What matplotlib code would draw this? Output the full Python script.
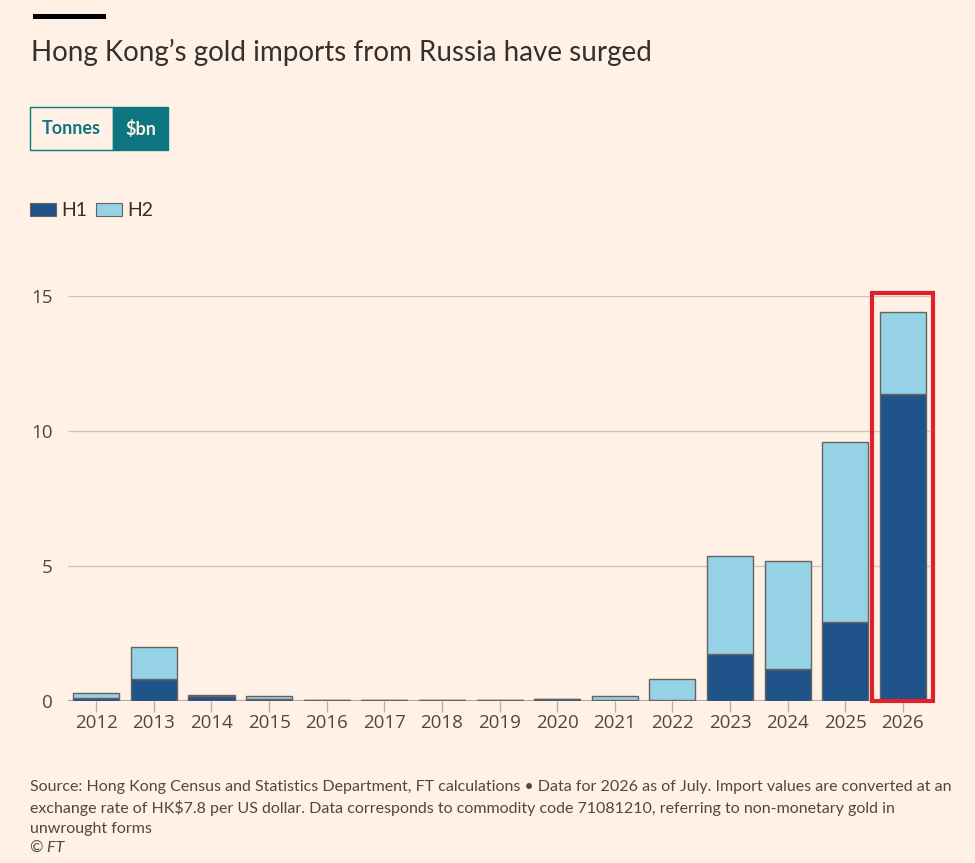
import matplotlib.pyplot as plt
from matplotlib.patches import Rectangle
import numpy as np

# dados
anos = ['2012', '2013', '2014', '2015', '2016', '2017', '2018', '2019',
        '2020', '2021', '2022', '2023', '2024', '2025', '2026']
h1 = [0.11, 0.79, 0.17, 0.07, 0.01, 0.01, 0.01, 0.01, 0.07, 0.02, 0.02, 1.72, 1.15, 2.90, 11.35]
h2 = [0.18, 1.19, 0.04, 0.10, 0.01, 0.02, 0.01, 0.01, 0.00, 0.16, 0.78, 3.64, 4.03, 6.68, 3.06]
destaque = 14  # 2026
yticks = [0, 5, 10, 15]

titulo = "Hong Kong\u2019s gold imports from Russia have surged"
nota = ["Source: Hong Kong Census and Statistics Department, FT calculations \u2022 Data for 2026 as of July. Import values are converted at an",
        "exchange rate of HK$7.8 per US dollar. Data corresponds to commodity code 71081210, referring to non-monetary gold in",
        "unwrought forms"]

# cores
fundo = '#fff1e5'
cor_h1 = '#1f538a'
cor_h2 = '#96d2e6'
borda = '#67625e'
teal = '#0d7680'
texto = '#33302e'

plt.rcParams['font.family'] = ['Lato', 'DejaVu Sans']

W, H = 975, 863
fig = plt.figure(figsize=(W / 100, H / 100), dpi=100, facecolor=fundo)


def px(x, y):
    return x / W, 1 - y / H


# area do grafico
ax = fig.add_axes([68 / W, 1 - 700.5 / H, (930 - 68) / W, (700.5 - 296) / H])
ax.set_facecolor(fundo)
x = np.arange(len(anos))
ax.bar(x, h1, width=0.8, color=cor_h1, edgecolor=borda, linewidth=1, zorder=3)
ax.bar(x, h2, width=0.8, bottom=h1, color=cor_h2, edgecolor=borda, linewidth=1, zorder=3)

ax.set_xlim(-0.49, 14.47)
ax.set_ylim(0, 15)
ax.set_yticks(yticks)
ax.set_xticks(x)
ax.set_xticklabels(anos)
for s in ax.spines.values():
    s.set_visible(False)
ax.grid(axis='y', color='#cfc6bd', linewidth=1, zorder=0)
ax.axhline(0, color='#b3aba3', linewidth=1.5, zorder=2)
ax.tick_params(axis='y', length=0, pad=11, labelsize=13.5, labelcolor='#4d4845')
ax.tick_params(axis='x', length=8, width=1, color='#b8afa7', pad=2,
               labelsize=13.5, labelcolor='#4d4845')
for lb in ax.get_xticklabels() + ax.get_yticklabels():
    lb.set_family(['Open Sans', 'DejaVu Sans'])

# destaque vermelho
ax.add_patch(Rectangle((x[destaque] - 0.53, 0), 1.06, 15.12, fill=False,
                       edgecolor='#e0202a', linewidth=3, clip_on=False, zorder=4))

# barra preta e titulo
fig.patches.append(Rectangle(px(33, 19.5), 73 / W, 5.5 / H, transform=fig.transFigure,
                             facecolor='black', edgecolor='none'))
fig.text(*px(31, 52), titulo, fontsize=20, color=texto, va='center')

# botoes
fig.patches.append(Rectangle(px(30, 150), 83 / W, 43 / H, transform=fig.transFigure,
                             facecolor=fundo, edgecolor=teal, linewidth=1))
fig.patches.append(Rectangle(px(113, 150), 55 / W, 43 / H, transform=fig.transFigure,
                             facecolor=teal, edgecolor=teal, linewidth=1))
fig.text(*px(71.5, 129), 'Tonnes', fontsize=13, color=teal, weight='bold', ha='center', va='center')
fig.text(*px(140.5, 129), '$bn', fontsize=13, color=fundo, weight='bold', ha='center', va='center')

# legenda
fig.patches.append(Rectangle(px(30, 216), 26 / W, 13 / H, transform=fig.transFigure,
                             facecolor=cor_h1, edgecolor=borda, linewidth=0.8))
fig.patches.append(Rectangle(px(96, 216), 26 / W, 13 / H, transform=fig.transFigure,
                             facecolor=cor_h2, edgecolor=borda, linewidth=0.8))
fig.text(*px(61, 210), 'H1', fontsize=14, color=texto, va='center')
fig.text(*px(127, 210), 'H2', fontsize=14, color=texto, va='center')

# nota de rodape
for i, linha in enumerate(nota):
    fig.text(*px(30, 787 + 21 * i), linha, fontsize=11.5, color='#4d4845', va='center')
fig.text(*px(30, 849), '\u00a9 FT', fontsize=11.5, color='#4d4845', va='center', style='italic')

fig.savefig('out.png', dpi=100, facecolor=fundo)
